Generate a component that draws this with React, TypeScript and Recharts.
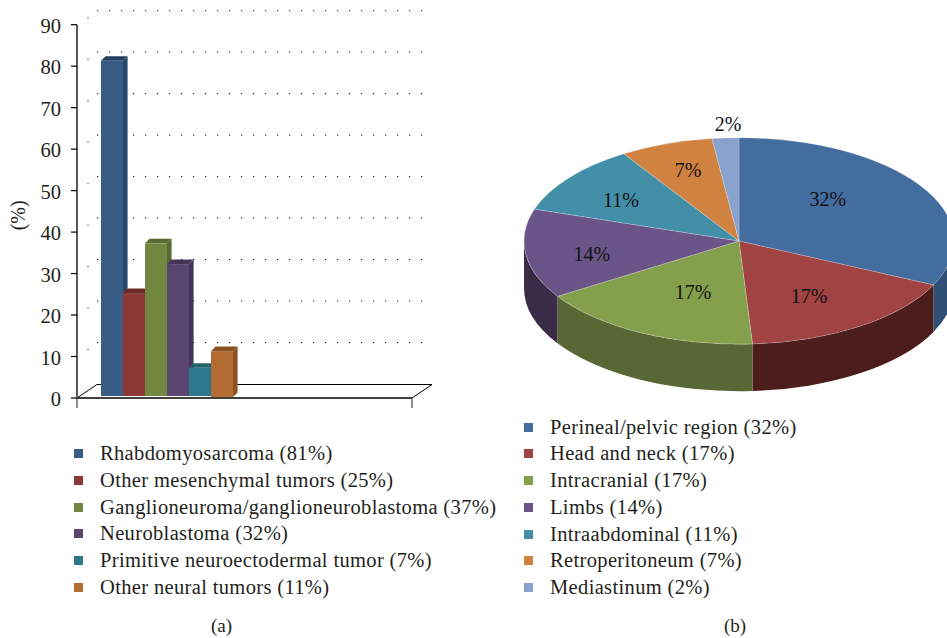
import React from "react";
import {
  Bar,
  BarChart,
  CartesianGrid,
  Legend,
  Pie,
  PieChart,
  XAxis,
  YAxis,
} from "recharts";

const SERIF = '"Liberation Serif", serif';
const INK = "#231f20";

// panel (a)
const tumorNames = [
  "Rhabdomyosarcoma (81%)",
  "Other mesenchymal tumors (25%)",
  "Ganglioneuroma/ganglioneuroblastoma (37%)",
  "Neuroblastoma (32%)",
  "Primitive neuroectodermal tumor (7%)",
  "Other neural tumors (11%)",
];
const tumorValues = [81, 25, 37, 32, 7, 11];
const tumorFront = ["#375c85", "#8a3735", "#71873f", "#5a4571", "#2e788e", "#b36c31"];
const tumorTop = ["#23405f", "#6b2a28", "#5a6b31", "#45345a", "#24606f", "#8a5224"];
const tumorSide = ["#27486a", "#6b2a28", "#5a6b31", "#45345a", "#24606f", "#8a5224"];
const yTicks = [0, 10, 20, 30, 40, 50, 60, 70, 80, 90];
const xTicks = [0, 1, 2];

// panel (b)
const siteNames = [
  "Perineal/pelvic region (32%)",
  "Head and neck (17%)",
  "Intracranial (17%)",
  "Limbs (14%)",
  "Intraabdominal (11%)",
  "Retroperitoneum (7%)",
  "Mediastinum (2%)",
];
const siteValues = [32, 17, 17, 14, 11, 7, 2];
const siteColors = ["#446d9f", "#a04342", "#85a04c", "#6b5488", "#448fa8", "#d08241", "#89a1cd"];
const siteWalls = ["#2f4f75", "#4c1d1d", "#586733", "#3a2b47", "#2f6375", "#8f5a2c", "#5f708f"];
const labelReachX = [0.49, 0.58, 0.47, 0.69, 0.695, 0.7, 0.81];
const labelReachY = [0.76, 0.65, 0.555, 1.0, 0.65, 0.73, 1.14];

const barRow: Record<string, number | string> = { group: "a" };
tumorValues.forEach((v, i) => {
  barRow[`s${i}`] = v;
});
const barData = [barRow, { group: "b" }];
const pieData = siteNames.map((name, i) => ({ name, value: siteValues[i], fill: siteColors[i] }));
const wallData = siteNames.map((name, i) => ({ name, value: siteValues[i], fill: siteWalls[i] }));

const PLOT_BOTTOM = 398;
const WALL_X = 20;
const WALL_Y = -14;
const DEPTH = 4.6;
const SQUASH = 0.48;
const THICKNESS = 47;
const RAD = Math.PI / 180;

const Bar3D = (props: any) => {
  const { x, width, series } = props;
  const y = props.y - 1.2;
  const left = x + 7.5;
  const right = left + width;
  const bottom = PLOT_BOTTOM - 2 + (series === 5 ? 1 : 0);
  return (
    <g>
      <polygon
        points={`${right},${y} ${right + DEPTH},${y - DEPTH} ${right + DEPTH},${bottom - DEPTH} ${right},${bottom}`}
        fill={tumorSide[series]}
      />
      <polygon
        points={`${left},${y} ${left + DEPTH},${y - DEPTH} ${right + DEPTH},${y - DEPTH} ${right},${y}`}
        fill={tumorTop[series]}
      />
      <rect x={left} y={y} width={width} height={bottom - y} fill={tumorFront[series]} />
    </g>
  );
};

const GridLine = (props: any) => {
  const { x1, x2, y1, key } = props;
  if (Math.abs(y1 - PLOT_BOTTOM) < 1) {
    return (
      <polygon
        key={key}
        points={`${x1},${y1} ${x1 + WALL_X},${y1 + WALL_Y + 0.5} ${x2 + WALL_X},${y1 + WALL_Y + 0.5} ${x2},${y1}`}
        fill="#fff"
        stroke="#000"
        strokeWidth={1}
      />
    );
  }
  return (
    <g key={key}>
      <line
        x1={x1 + WALL_X}
        x2={x2 + WALL_X}
        y1={y1 + WALL_Y}
        y2={y1 + WALL_Y}
        stroke="#000"
        strokeWidth={1}
        strokeDasharray="1.2 10.8"
      />
      <rect x={x1 + 10.5} y={y1 - 7.5} width={1} height={1} fill="#000" />
    </g>
  );
};

const arcPoint = (cx: number, cy: number, rx: number, ry: number, a: number) =>
  `${cx + rx * Math.cos(a * RAD)},${cy - ry * Math.sin(a * RAD)}`;

const TopSlice = (props: any) => {
  const { cx, cy, outerRadius, startAngle, endAngle, fill } = props;
  const rx = outerRadius;
  const ry = outerRadius * SQUASH;
  const large = Math.abs(endAngle - startAngle) > 180 ? 1 : 0;
  return (
    <path
      d={`M${cx},${cy} L${arcPoint(cx, cy, rx, ry, startAngle)} A${rx},${ry} 0 ${large} 1 ${arcPoint(cx, cy, rx, ry, endAngle)} Z`}
      fill={fill}
      stroke="#ffffff"
      strokeOpacity={0.35}
      strokeWidth={0.6}
    />
  );
};

const WallSlice = (props: any) => {
  const { cx, cy, outerRadius, startAngle, endAngle, fill } = props;
  const rx = outerRadius;
  const ry = outerRadius * SQUASH;
  // only the front half of the rim can be seen
  const from = Math.min(startAngle, 0);
  const to = Math.max(endAngle, -180);
  if (from <= to) return <g />;
  const a = arcPoint(cx, cy, rx, ry, from);
  const b = arcPoint(cx, cy, rx, ry, to);
  const a2 = arcPoint(cx, cy + THICKNESS, rx, ry, from);
  const b2 = arcPoint(cx, cy + THICKNESS, rx, ry, to);
  return <path d={`M${a} A${rx},${ry} 0 0 1 ${b} L${b2} A${rx},${ry} 0 0 0 ${a2} Z`} fill={fill} />;
};

const sliceLabel = (props: any) => {
  const { cx, cy, midAngle, outerRadius, index, value } = props;
  const x = cx + outerRadius * labelReachX[index] * Math.cos(midAngle * RAD);
  const y = cy - outerRadius * SQUASH * labelReachY[index] * Math.sin(midAngle * RAD);
  return (
    <text
      key={index}
      x={x}
      y={y}
      textAnchor="middle"
      dominantBaseline="central"
      fontFamily={SERIF}
      fontSize={20}
      fill="#111"
    >
      {`${value}%`}
    </text>
  );
};

const LegendList = ({ payload }: any) => (
  <div style={{ fontFamily: SERIF, fontSize: 20.5, letterSpacing: 0.35, color: INK }}>
    {(payload || [])
      .filter((entry: any) => entry.type !== "none")
      .map((entry: any) => (
        <div
          key={entry.value}
          style={{ height: 26.8, lineHeight: "26.8px", whiteSpace: "nowrap", position: "relative", paddingLeft: 26 }}
        >
          <span
            style={{
              position: "absolute",
              left: 0,
              top: 9,
              width: 9,
              height: 9,
              background: entry.color,
            }}
          />
          {entry.value}
        </div>
      ))}
  </div>
);

const legendAt = (left: number, top: number) => ({ left, top, width: 430, bottom: "auto", right: "auto" });

const captionStyle = (left: number): React.CSSProperties => ({
  position: "absolute",
  left,
  top: 615,
  fontFamily: SERIF,
  fontSize: 19,
  color: INK,
});

export default function App() {
  return (
    <div style={{ position: "fixed", left: 0, top: 0, width: 947, height: 638, overflow: "hidden", background: "#fff" }}>
      <div style={{ position: "absolute", left: 0, top: 0 }}>
        <BarChart
          width={505}
          height={610}
          data={barData}
          margin={{ top: 24.7, right: 93, bottom: 202, left: 0 }}
          barGap={0}
          barCategoryGap={16.5}
        >
          <CartesianGrid vertical={false} horizontal={GridLine} />
          <XAxis dataKey="group" hide height={0} />
          <XAxis
            xAxisId="marks"
            type="number"
            domain={[0, 2]}
            ticks={xTicks}
            tickFormatter={() => ""}
            tickSize={10}
            height={10}
            stroke="#000"
            tickLine={{ stroke: "#444", strokeWidth: 1.2 }}
          />
          <YAxis
            width={77}
            domain={[0, 90]}
            ticks={yTicks}
            interval={0}
            tickSize={6}
            tickMargin={10}
            axisLine={{ stroke: "#595959", strokeWidth: 2 }}
            tickLine={{ stroke: "#000", strokeWidth: 1.2 }}
            tick={{ fontFamily: SERIF, fontSize: 20.5, fill: INK, dy: 1 }}
            label={{ value: "(%)", angle: -90, position: "insideLeft", offset: 18, dy: 19, fontFamily: SERIF, fontSize: 20, fill: INK }}
          />
          <Legend
            layout="vertical"
            align="center"
            verticalAlign="middle"
            itemSorter={null}
            content={<LegendList />}
            wrapperStyle={legendAt(74, 440)}
          />
          {tumorNames.map((name, i) => (
            <Bar
              key={name}
              dataKey={`s${i}`}
              name={name}
              fill={tumorFront[i]}
              shape={(p: any) => <Bar3D {...p} series={i} />}
              isAnimationActive={false}
            />
          ))}
        </BarChart>
      </div>

      <div style={{ position: "absolute", left: 500, top: 0, width: 447, height: 610, overflow: "hidden" }}>
        <PieChart width={447} height={610} margin={{ top: 0, right: 0, bottom: 0, left: 0 }}>
          <Pie
            data={wallData}
            dataKey="value"
            cx={239}
            cy={241}
            outerRadius={215}
            startAngle={90}
            endAngle={-270}
            legendType="none"
            shape={WallSlice}
            isAnimationActive={false}
          />
          <Pie
            data={pieData}
            dataKey="value"
            nameKey="name"
            cx={239}
            cy={241}
            outerRadius={215}
            startAngle={90}
            endAngle={-270}
            shape={TopSlice}
            label={sliceLabel}
            labelLine={false}
            isAnimationActive={false}
          />
          <Legend
            layout="vertical"
            align="center"
            verticalAlign="middle"
            itemSorter={null}
            content={<LegendList />}
            wrapperStyle={legendAt(24, 413.5)}
          />
        </PieChart>
      </div>

      <div style={captionStyle(211)}>(a)</div>
      <div style={captionStyle(724)}>(b)</div>
    </div>
  );
}
